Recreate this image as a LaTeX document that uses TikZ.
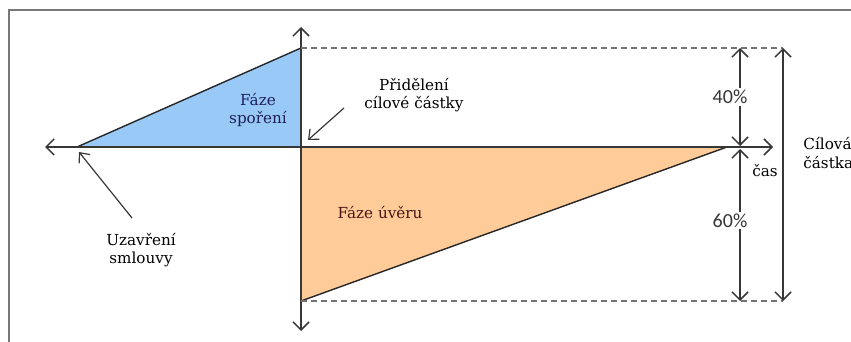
\documentclass[tikz,border=0pt]{standalone}
\usepackage{fontspec}
\setmainfont{DejaVu Serif}
\newfontfamily\notefont{DejaVu Serif}
\newfontfamily\pctfont{Carlito}
\usetikzlibrary{arrows.meta,positioning}
\definecolor{savefill}{RGB}{153,202,247}
\definecolor{loanfill}{RGB}{255,204,153}
\definecolor{axisgray}{RGB}{55,55,55}
\definecolor{framegray}{RGB}{120,120,120}
\definecolor{savetext}{RGB}{30,30,90}
\definecolor{loantext}{RGB}{75,20,20}
\tikzset{axis/.style={draw=axisgray,line width=0.75pt,
      {Straight Barb[length=4pt,width=8pt]}-{Straight Barb[length=4pt,width=8pt]}},
    pointer/.style={draw=axisgray,line width=0.6pt,-{Straight Barb[length=4pt,width=7pt]}},
    guide/.style={draw=axisgray!70,line width=0.6pt,dash pattern=on 3pt off 2pt},
    edge/.style={draw=black!85,line width=0.7pt},
    note/.style={font=\notefont\fontsize{7.6}{9.2}\selectfont,align=center,inner sep=1pt},
    pct/.style={font=\pctfont\fontsize{10}{11}\selectfont,fill=white,inner sep=1pt,
      text=axisgray,xshift=-5pt}}
\begin{document}
\begin{tikzpicture}[x=0.5pt,y=-0.5pt]
  \clip (0,0) rectangle (851,342);

  % Frame round the picture
  \draw[framegray,line width=1pt] (9,342) |- (851,10);

  % Corners of the two phases
  \foreach \pos/\name in {{(301,147)/o}, {(301,48)/t}, {(301,301)/b},
                          {(77,147)/l}, {(727,147)/r}}
    \path \pos coordinate (\name);

  \fill[savefill] (l) -- (t) -- (o) -- cycle;
  \fill[loanfill] (o) -- (r) -- (b) -- cycle;
  \path[edge] (l) -- (t);
  \path[edge] (b) -- (r);

  % Axes and dashed guides
  \foreach \pos/\name in {{(45,147)/xl}, {(773,147)/xr}, {(301,27)/yt}, {(301,331)/yb},
                          {(783,48)/gt}, {(783,301)/gb},
                          {(740,48)/mt}, {(740,146)/mu}, {(740,149)/md}, {(740,301)/mb},
                          {(344,108)/pp}, {(308,140)/pq}, {(132,218)/pu}, {(79,152)/pv}}
    \path \pos coordinate (\name);

  \path[axis] (xl) -- (xr);
  \path[axis] (yt) -- (yb);
  \path[guide] (t) -- (gt);
  \path[guide] (b) -- (gb);

  % Shares of the target amount
  \path[axis] (mt) -- node[pct] {40\%} (mu);
  \path[axis] (md) -- node[pct,pos=0.47] {60\%} (mb);
  \path[axis] (gt) -- (gb);

  % Texts
  \node[note,text=savetext] (spor) at (258,110) {Fáze\\spoření};
  \node[note,text=loantext] (uver) at (380,213) {Fáze úvěru};
  \node[note] (prid) at (414,95) {Přidělení\\cílové částky};
  \node[note] (uzav) at (141,250) {Uzavření\\smlouvy};
  \node[note] (cas) at (765,171) {čas};
  \node[note,anchor=west,align=left] (cil) at (801,153) {Cílová\\částka};

  % Pointers to the two moments
  \path[pointer] (pp) -- (pq);
  \path[pointer] (pu) -- (pv);

\end{tikzpicture}
\end{document}
